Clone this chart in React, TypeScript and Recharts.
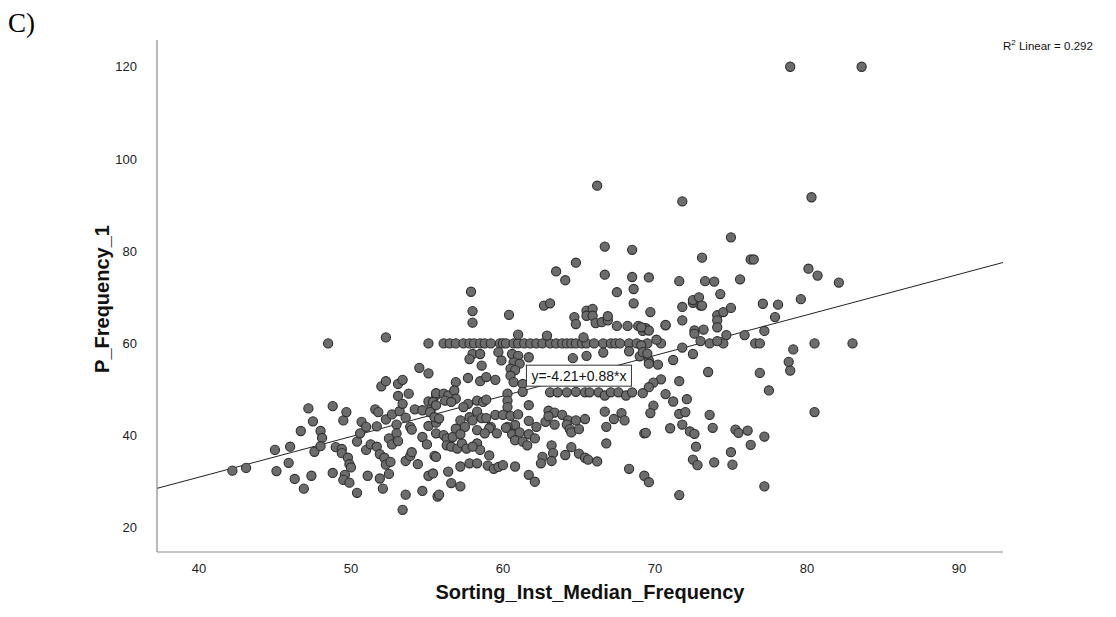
import { ScatterChart, Scatter, XAxis, YAxis, ReferenceLine, ReferenceDot } from 'recharts';

type Pt = [number, number];

// Sorting_Inst_Median_Frequency (x) vs P_Frequency_1 (y)
const LOW_LEFT: Pt[] = [
  [48.5, 60.0], [52.3, 61.3], [42.2, 32.4], [43.1, 33.0], [45.0, 36.9], [45.1, 32.3], [45.9, 34.1],
  [46.0, 37.6], [46.3, 30.6], [46.9, 28.5], [46.7, 41.0], [47.2, 45.9], [47.5, 43.1], [47.4, 31.3],
  [47.6, 36.5], [48.0, 41.0], [48.1, 39.5], [48.0, 37.7], [48.8, 46.4], [48.8, 31.9], [49.0, 37.5],
  [49.4, 37.1], [49.4, 36.2], [49.5, 43.3], [49.7, 45.1], [49.8, 35.2], [49.9, 33.8], [50.0, 33.1],
  [49.6, 31.5], [49.5, 30.4], [49.9, 29.8], [50.4, 27.6], [50.4, 38.7], [50.7, 43.0], [50.6, 40.5],
  [51.0, 41.9], [51.0, 36.9], [51.3, 38.1], [51.1, 31.3], [51.7, 42.0], [51.6, 45.7], [51.8, 45.1],
  [51.7, 37.6], [51.9, 36.0], [51.9, 30.7], [52.0, 50.7], [52.3, 51.8], [52.1, 28.5], [52.3, 43.5],
  [52.5, 39.4], [52.2, 35.2], [52.3, 33.7], [52.5, 31.7], [52.6, 34.3], [52.7, 44.6], [52.7, 38.1],
  [53.1, 51.2], [53.4, 52.1], [53.1, 48.6], [53.0, 42.4], [53.0, 40.5], [53.1, 38.8], [53.2, 45.3],
  [53.4, 46.9], [53.6, 43.9], [53.6, 34.5], [53.6, 27.2], [53.4, 23.9], [53.8, 49.1], [53.9, 41.9],
  [54.0, 41.3], [53.9, 35.6], [54.0, 36.4], [54.2, 45.7], [54.5, 54.7], [55.1, 53.5], [54.4, 33.8],
  [54.7, 28.0], [54.7, 45.5], [54.7, 39.7], [55.1, 47.4], [55.1, 42.1], [55.0, 38.1], [55.1, 31.3],
  [55.3, 45.9], [55.5, 35.6], [55.6, 48.8], [55.6, 42.8], [55.7, 26.8],
];

const BAND_60: Pt[] = [
  [55.1, 60], [56.1, 60], [56.5, 60], [56.9, 60], [57.4, 60], [57.8, 60], [58.1, 60], [58.5, 60],
  [58.8, 60], [59.2, 60], [59.8, 60], [60.0, 60], [60.2, 60], [60.7, 60], [61.0, 60], [61.4, 60],
  [61.8, 60], [62.2, 60], [62.6, 60], [63.1, 60], [63.5, 60], [63.9, 60], [64.2, 60], [64.5, 60],
  [64.8, 60], [65.2, 60], [65.5, 60], [66.0, 60], [66.6, 60], [67.1, 60], [67.4, 60], [67.7, 60],
  [68.3, 60], [68.8, 60], [69.5, 60], [70.4, 60], [73.6, 60], [74.5, 60], [76.6, 60], [76.9, 60],
  [80.5, 60], [83.0, 60],
];

const MIDDLE: Pt[] = [
  [58.0, 64.5], [69.2, 62.7], [61.0, 61.9], [62.9, 61.7], [65.3, 61.3], [58.0, 57.7], [58.5, 57.7],
  [57.8, 56.6], [58.6, 55.2], [59.7, 58.1], [59.9, 56.3], [60.6, 57.7], [61.0, 57.3], [60.7, 55.9],
  [61.1, 55.6], [61.7, 57.0], [60.5, 54.5], [60.8, 54.2], [60.5, 53.0], [60.7, 51.6], [61.3, 51.2],
  [57.7, 52.5], [56.9, 51.6], [58.5, 51.8], [58.9, 52.7], [59.5, 52.1], [55.6, 49.2], [56.1, 49.1],
  [56.4, 48.7], [56.8, 49.8], [56.9, 48.0], [55.4, 47.3], [55.6, 46.6], [56.2, 47.6], [56.6, 47.3],
  [57.7, 46.9], [58.3, 47.6], [58.7, 47.3], [58.9, 47.8], [60.3, 49.1], [60.3, 47.6], [60.3, 46.2],
  [61.3, 49.5], [61.7, 46.6], [63.1, 49.4], [63.6, 49.4], [64.2, 49.4], [64.8, 49.5], [65.4, 49.4],
  [65.7, 49.4], [66.3, 49.4], [66.7, 48.7], [67.1, 49.4], [67.6, 49.4], [68.1, 48.7], [68.5, 49.4],
  [55.2, 45.1], [55.5, 44.0], [55.8, 43.7], [57.4, 46.2], [57.8, 44.0], [58.0, 43.3], [58.3, 45.2],
  [58.6, 43.8], [58.9, 43.8], [59.2, 41.9], [59.1, 41.6], [59.5, 44.5], [60.0, 44.5], [60.5, 44.3],
  [61.0, 44.6], [60.8, 42.3], [60.3, 41.9], [61.7, 43.2], [62.2, 41.9], [62.8, 43.0], [63.0, 45.4],
  [63.4, 45.0], [63.9, 44.5], [64.3, 43.3], [64.8, 43.3], [65.4, 43.6], [63.0, 44.2], [63.4, 42.4],
  [64.2, 42.4], [64.4, 41.4], [64.5, 40.7], [65.0, 41.4], [66.7, 45.2], [66.8, 41.9], [67.3, 43.6],
  [67.8, 44.9], [68.0, 43.3], [66.8, 38.3], [69.3, 40.5], [55.6, 40.5], [56.1, 40.1], [56.3, 39.4],
  [56.7, 39.7], [57.2, 43.3], [57.5, 41.9], [56.9, 41.5], [57.2, 40.3], [56.3, 37.9], [56.6, 37.6],
  [57.0, 37.2], [57.3, 38.3], [57.6, 37.2], [58.3, 38.3], [58.5, 36.9], [58.3, 41.2], [58.8, 40.5],
  [59.6, 40.5], [60.2, 41.7], [60.6, 40.3], [61.1, 40.7], [61.7, 40.3], [60.8, 39.0], [61.3, 38.7],
  [61.6, 37.9], [62.1, 39.4], [63.2, 37.9], [62.6, 35.4], [63.3, 36.2], [64.1, 35.8], [64.5, 37.5],
  [65.0, 36.1], [65.4, 35.2], [66.2, 34.4], [68.3, 32.8], [69.3, 31.3], [55.6, 35.4], [55.4, 31.8],
  [56.4, 32.2], [57.2, 33.3], [57.8, 34.0], [58.3, 34.0], [59.0, 33.5], [59.4, 32.8], [59.7, 33.2],
  [60.0, 33.6], [60.8, 33.3], [56.6, 29.7], [57.2, 29.0], [55.8, 27.2], [61.7, 31.5], [62.1, 30.0],
  [62.5, 34.0], [59.1, 35.7], [58.0, 37.6], [63.2, 34.5], [65.6, 34.8], [64.6, 56.8], [65.5, 57.3],
  [66.6, 58.0], [68.3, 58.3], [69.0, 57.2],
];

const RIGHT_SIDE: Pt[] = [
  [69.7, 66.8], [71.8, 67.9], [72.5, 68.8], [73.0, 68.2], [74.1, 66.1], [74.5, 66.8], [75.0, 67.7],
  [74.1, 65.0], [74.1, 63.5], [77.1, 68.6], [78.1, 68.4], [79.6, 69.6], [77.9, 65.7], [71.8, 65.0],
  [70.7, 63.9], [69.4, 63.3], [69.6, 62.8], [72.6, 62.8], [73.2, 63.0], [72.6, 62.1], [74.7, 61.8],
  [75.9, 61.8], [77.2, 62.7], [73.0, 60.5], [74.1, 60.5], [79.1, 58.7], [78.8, 56.0], [78.9, 54.1],
  [76.9, 53.6], [77.5, 49.8], [80.5, 45.1], [71.8, 59.1], [72.5, 57.7], [71.2, 56.4], [70.2, 55.4],
  [69.6, 56.3], [69.6, 55.6], [73.5, 53.8], [71.6, 51.8], [70.4, 52.2], [69.9, 51.5], [69.6, 50.5],
  [69.2, 49.2], [70.7, 49.0], [71.2, 47.4], [72.1, 47.9], [69.9, 46.5], [69.7, 44.9], [71.6, 44.7],
  [72.0, 45.1], [73.6, 44.5], [71.8, 42.4], [71.0, 41.6], [69.4, 40.6], [73.8, 41.7], [72.3, 40.9],
  [72.6, 40.4], [75.3, 41.3], [75.5, 40.6], [76.1, 41.1], [77.2, 39.8], [72.7, 37.6], [76.3, 38.0],
  [75.0, 36.4], [72.5, 34.8], [72.8, 33.6], [73.9, 34.2], [75.1, 33.7], [69.6, 29.9], [71.6, 27.1],
  [77.2, 29.0], [69.1, 59.6], [69.2, 58.1], [69.5, 57.8], [70.1, 60.8],
];

const UPPER: Pt[] = [
  [66.2, 94.2], [71.8, 90.8], [80.3, 91.7], [75.0, 83.0], [66.7, 81.0], [68.5, 80.3], [73.1, 78.6],
  [76.3, 78.2], [76.5, 78.2], [64.8, 77.5], [63.5, 75.6], [64.1, 73.7], [66.7, 74.9], [68.5, 74.4],
  [69.6, 74.3], [71.6, 73.5], [73.3, 73.5], [73.9, 73.4], [75.6, 73.9], [80.1, 76.2], [80.7, 74.7],
  [82.1, 73.2], [57.9, 71.2], [58.0, 67.0], [60.4, 66.2], [62.7, 68.2], [63.1, 68.7], [67.5, 71.1],
  [68.6, 71.8], [68.6, 68.7], [65.5, 67.1], [65.9, 67.5], [65.5, 66.0], [65.9, 66.0], [64.7, 65.7],
  [64.8, 64.2], [66.1, 64.4], [66.5, 64.6], [66.9, 65.0], [66.9, 65.9], [67.5, 63.8], [68.2, 63.8],
  [68.9, 63.8], [69.1, 63.5], [70.7, 64.0], [72.5, 69.4], [72.9, 70.0], [73.1, 68.2], [74.3, 70.7],
];

const OUTLIERS: Pt[] = [[78.9, 120], [83.6, 120]];

const X_TICKS = [40, 50, 60, 70, 80, 90];
const Y_TICKS = [20, 40, 60, 80, 100, 120];
const X_DOMAIN: [number, number] = [37.24, 92.9];
const Y_DOMAIN: [number, number] = [14.76, 125.8];

// fit line shown on the plot
const INTERCEPT = -4.21;
const SLOPE = 0.88;
const R2_TEXT = '0.292';
const FIT_LABEL = 'y=-4.21+0.88*x';
const FIT_LABEL_AT = { x: 65.0, y: 53.0 };

const FONT = 'Arial, "Liberation Sans", sans-serif';

const points = [...LOW_LEFT, ...BAND_60, ...MIDDLE, ...RIGHT_SIDE, ...UPPER, ...OUTLIERS].map(
  ([x, y]) => ({ x, y }),
);

const fitSegment = [
  { x: X_DOMAIN[0], y: INTERCEPT + SLOPE * X_DOMAIN[0] },
  { x: X_DOMAIN[1], y: INTERCEPT + SLOPE * X_DOMAIN[1] },
];

function Dot(props: any) {
  const { cx, cy } = props;
  if (cx == null || cy == null) return null;
  return <circle cx={cx} cy={cy} r={4.6} fill="#6c6c6c" stroke="#2e2e2e" strokeWidth={1.1} />;
}

function FitLabel(props: any) {
  const { cx, cy } = props;
  if (cx == null || cy == null) return null;
  const w = 105;
  const h = 21;
  return (
    <g>
      <rect x={cx - w / 2} y={cy - h / 2} width={w} height={h} fill="#fff" stroke="#333" strokeWidth={1} />
      <text x={cx} y={cy + 5} textAnchor="middle" fontFamily={FONT} fontSize={14} fill="#111">
        {FIT_LABEL}
      </text>
    </g>
  );
}

export default function App() {
  return (
    <div style={{ position: 'relative', width: 1100, height: 600 }}>
      <div
        style={{
          position: 'absolute',
          left: 0,
          top: 0,
          fontFamily: '"Liberation Serif", "Times New Roman", serif',
          fontSize: 27,
          lineHeight: '30px',
        }}
      >
        C)
      </div>
      <div
        style={{
          position: 'absolute',
          left: 995,
          top: 31,
          fontFamily: FONT,
          fontSize: 11.5,
          lineHeight: '14px',
          color: '#111',
          whiteSpace: 'nowrap',
        }}
      >
        R<sup style={{ fontSize: 8, lineHeight: 0 }}>2</sup> Linear = {R2_TEXT}
      </div>
      <ScatterChart width={1100} height={600} margin={{ top: 32, right: 105, bottom: 26, left: 89 }}>
        <XAxis
          type="number"
          dataKey="x"
          domain={X_DOMAIN}
          ticks={X_TICKS}
          allowDataOverflow
          height={30}
          tickLine={false}
          tickMargin={6}
          axisLine={{ stroke: '#8a8a8a', strokeWidth: 1.2 }}
          tick={{ fontSize: 13, fill: '#222', fontFamily: FONT }}
          label={{
            value: 'Sorting_Inst_Median_Frequency',
            position: 'bottom',
            offset: 3,
            dx: 10,
            style: { fontSize: 20, fontWeight: 'bold', fill: '#111', fontFamily: FONT },
          }}
        />
        <YAxis
          type="number"
          dataKey="y"
          domain={Y_DOMAIN}
          ticks={Y_TICKS}
          allowDataOverflow
          width={60}
          tickLine={false}
          tickMargin={14}
          axisLine={{ stroke: '#8a8a8a', strokeWidth: 1.2 }}
          tick={{ fontSize: 13, fill: '#222', fontFamily: FONT }}
          label={{
            value: 'P_Frequency_1',
            angle: -90,
            position: 'insideLeft',
            offset: 5,
            dy: 3,
            style: { fontSize: 20, fontWeight: 'bold', fill: '#111', fontFamily: FONT, textAnchor: 'middle' },
          }}
        />
        <Scatter data={points} shape={Dot} isAnimationActive={false} />
        <ReferenceLine segment={fitSegment} stroke="#222" strokeWidth={1} ifOverflow="visible" />
        <ReferenceDot
          x={FIT_LABEL_AT.x}
          y={FIT_LABEL_AT.y}
          shape={FitLabel}
          ifOverflow="visible"
        />
      </ScatterChart>
    </div>
  );
}
